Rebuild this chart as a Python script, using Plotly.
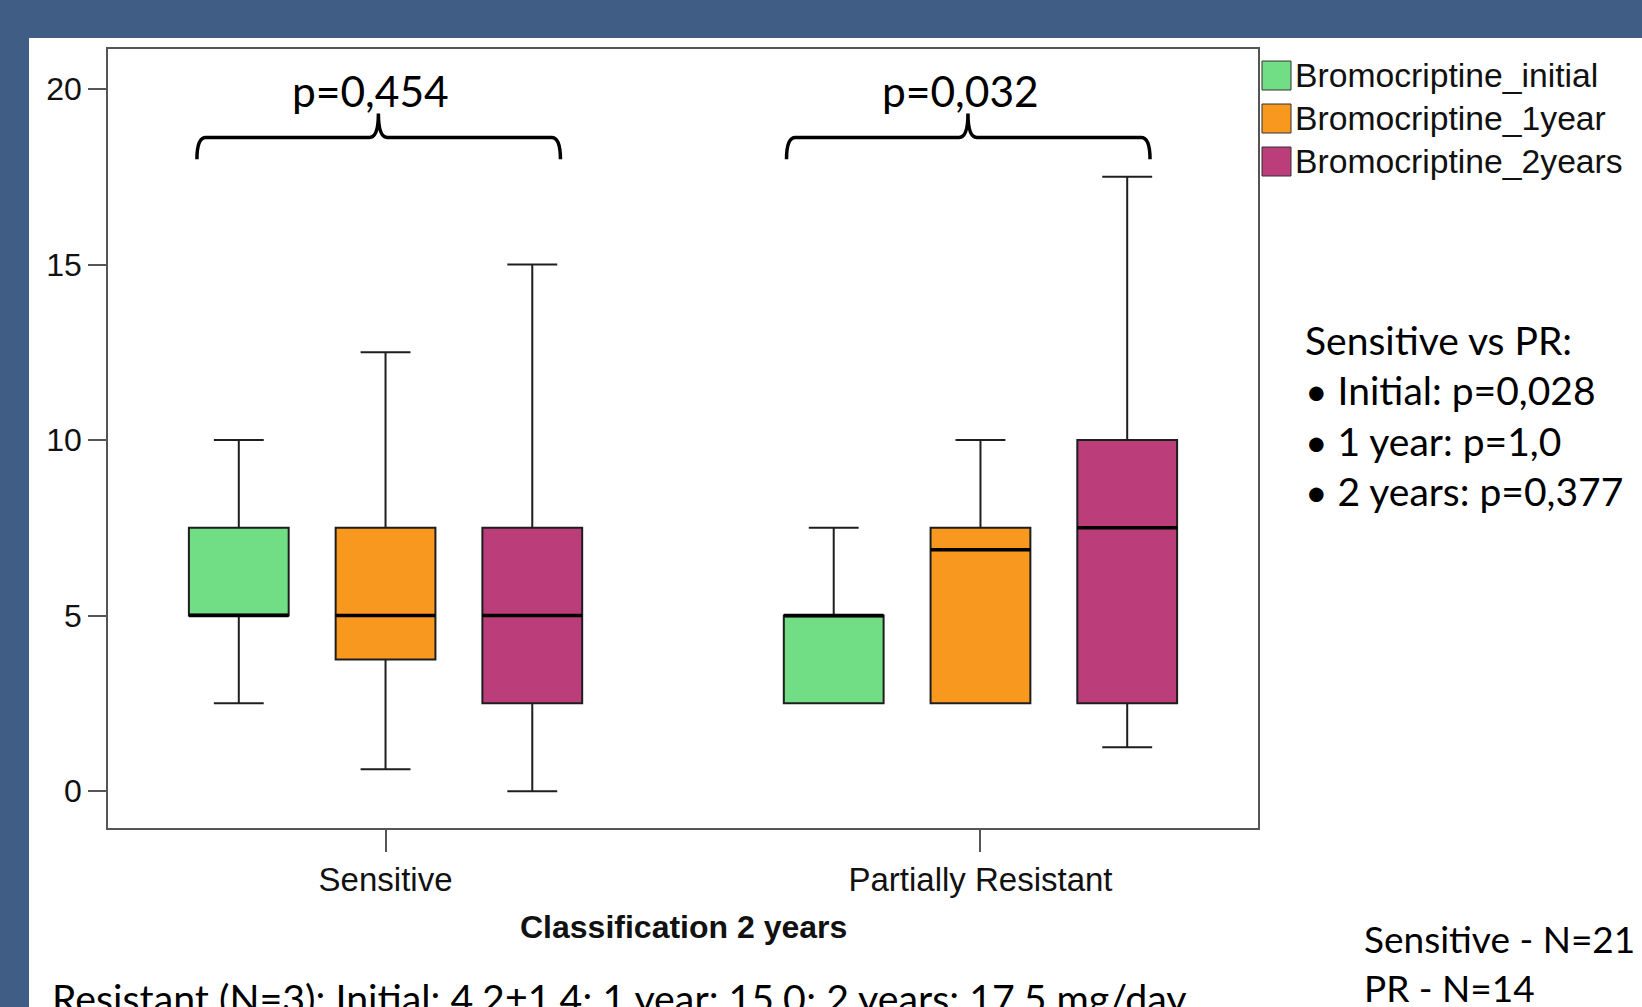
import plotly.graph_objects as go

# ---------------- data ----------------
categories = ["Sensitive", "Partially Resistant"]
series_names = ["Bromocriptine_initial", "Bromocriptine_1year", "Bromocriptine_2years"]
series_colors = ["#71DD84", "#F8981F", "#BB3E7B"]

# per series: [Sensitive, Partially Resistant]
lowerfence = [[2.5, 2.5], [0.625, 2.5], [0.0, 1.25]]
q1 = [[5.0, 2.5], [3.75, 2.5], [2.5, 2.5]]
median = [[5.0, 5.0], [5.0, 6.875], [5.0, 7.5]]
q3 = [[7.5, 5.0], [7.5, 7.5], [7.5, 10.0]]
upperfence = [[10.0, 7.5], [12.5, 10.0], [15.0, 17.5]]

y_ticks = [0, 5, 10, 15, 20]
group_pvalues = ["p=0,454", "p=0,032"]
side_lines = ["Sensitive vs PR:", "• Initial: p=0,028", "• 1 year: p=1,0", "• 2 years: p=0,377"]
n_lines = ["Sensitive - N=21", "PR - N=14"]
resistant_note = "Resistant (N=3): Initial: 4,2±1,4; 1 year: 15,0; 2 years: 17,5 mg/day"
x_title = "Classification 2 years"

# ---------------- layout geometry (pixels) ----------------
W, H = 1642, 1007
L, R, T, B = 108, 1258, 49, 828  # plot area edges in pixels


def px(xp):
    return (xp - L) / (R - L)


def py(yp):
    return (B - yp) / (B - T)


SPSS_FONT = "Liberation Sans, Arial, sans-serif"
SLIDE_FONT = "Lato, Open Sans, sans-serif"

fig = go.Figure()
for i, name in enumerate(series_names):
    fig.add_trace(go.Box(
        name=name,
        x=categories,
        q1=q1[i], median=median[i], q3=q3[i],
        lowerfence=lowerfence[i], upperfence=upperfence[i],
        fillcolor=series_colors[i],
        line=dict(color="#1e1e1e", width=2),
        whiskerwidth=0.5,
        boxpoints=False,
        offsetgroup=f"g{i}",
        showlegend=False,
        hoverinfo="skip",
    ))
# thick median lines drawn over each box (same offset group)
for i, name in enumerate(series_names):
    fig.add_trace(go.Box(
        name=name + " median",
        x=categories,
        q1=median[i], median=median[i], q3=median[i],
        lowerfence=median[i], upperfence=median[i],
        fillcolor="rgba(0,0,0,0)",
        line=dict(color="black", width=3.5),
        whiskerwidth=0,
        boxpoints=False,
        offsetgroup=f"g{i}",
        showlegend=False,
        hoverinfo="skip",
    ))

shapes = []
# white slide panel
shapes.append(dict(type="rect", xref="paper", yref="paper", layer="below",
                   x0=px(29), x1=px(1650), y0=py(1015), y1=py(38),
                   fillcolor="white", line=dict(width=0)))

# legend swatches + labels
legend_rows = [75, 118, 161]
annotations = []
for i, name in enumerate(series_names):
    yc = legend_rows[i]
    shapes.append(dict(type="rect", xref="paper", yref="paper",
                       x0=px(1262), x1=px(1291), y0=py(yc + 15), y1=py(yc - 14),
                       fillcolor=series_colors[i], line=dict(color="#333", width=1)))
    annotations.append(dict(text=name, xref="paper", yref="paper",
                            x=px(1293), y=py(yc), xanchor="left", yanchor="middle",
                            showarrow=False, font=dict(family=SPSS_FONT, size=33.7, color="#111")))


# curly brackets over groups (in data coords: category index, value)
def brace(x0, x1, xc, ytop, ybot, ytip, r=0.015):
    return (f"M {x0},{ybot} Q {x0},{ytop} {x0 + r},{ytop} "
            f"L {xc - r},{ytop} Q {xc},{ytop} {xc},{ytip} "
            f"Q {xc},{ytop} {xc + r},{ytop} "
            f"L {x1 - r},{ytop} Q {x1},{ytop} {x1},{ybot}")


brace_specs = [(-0.317, 0.294, -0.012), (0.674, 1.285, 0.979)]
ptext_x = [-0.025, 0.967]
for (x0, x1, xc), ptxt, tx in zip(brace_specs, group_pvalues, ptext_x):
    shapes.append(dict(type="path", xref="x", yref="y",
                       path=brace(x0, x1, xc, 18.62, 18.0, 19.3),
                       line=dict(color="black", width=3.5)))
    annotations.append(dict(text=ptxt, xref="x", yref="y", x=tx, y=19.95,
                            xanchor="center", yanchor="middle", showarrow=False,
                            font=dict(family=SLIDE_FONT, size=42.5, color="black")))

# side text
side_y = [340, 390, 441, 491]
for t, yy in zip(side_lines, side_y):
    annotations.append(dict(text=t, xref="paper", yref="paper", x=px(1303), y=py(yy),
                            xanchor="left", yanchor="middle", showarrow=False,
                            font=dict(family=SLIDE_FONT, size=39, color="black")))

# N lines bottom right
for t, yy in zip(n_lines, [938, 988]):
    annotations.append(dict(text=t, xref="paper", yref="paper", x=px(1362), y=py(yy),
                            xanchor="left", yanchor="middle", showarrow=False,
                            font=dict(family=SLIDE_FONT, size=37, color="black")))

# resistant note (cut by bottom edge as on the slide)
annotations.append(dict(text=resistant_note, xref="paper", yref="paper", x=px(50), y=py(997),
                        xanchor="left", yanchor="middle", showarrow=False,
                        font=dict(family=SLIDE_FONT, size=39.3, color="black")))

# x axis title
annotations.append(dict(text=f"<b>{x_title}</b>", xref="paper", yref="paper", x=px(683), y=py(927),
                        xanchor="center", yanchor="middle", showarrow=False,
                        font=dict(family=SPSS_FONT, size=32, color="#111")))

fig.update_layout(
    width=W, height=H,
    margin=dict(l=L, r=W - R, t=T, b=H - B, pad=0),
    paper_bgcolor="#405D86",
    plot_bgcolor="white",
    boxmode="group",
    boxgap=0.26,
    boxgroupgap=0.32,
    shapes=shapes,
    annotations=annotations,
    showlegend=False,
)
fig.update_xaxes(
    type="category", range=[-0.4665, 1.4665],
    showline=True, mirror=True, linecolor="#555", linewidth=1.5,
    ticks="outside", ticklen=22, tickwidth=1.5, tickcolor="#555",
    tickfont=dict(family=SPSS_FONT, size=33, color="#111"),
    showgrid=False, zeroline=False,
)
fig.update_yaxes(
    range=[-1.05, 21.14], tickvals=y_ticks,
    showline=True, mirror=True, linecolor="#555", linewidth=1.5,
    ticks="outside", ticklen=18, tickwidth=1.5, tickcolor="#555",
    tickfont=dict(family=SPSS_FONT, size=32, color="#111"),
    showgrid=False, zeroline=False,
)

fig.write_html(
    "out.html",
    config={"displayModeBar": False},
    post_script="document.body.style.margin='0';document.body.style.overflow='hidden';",
)
